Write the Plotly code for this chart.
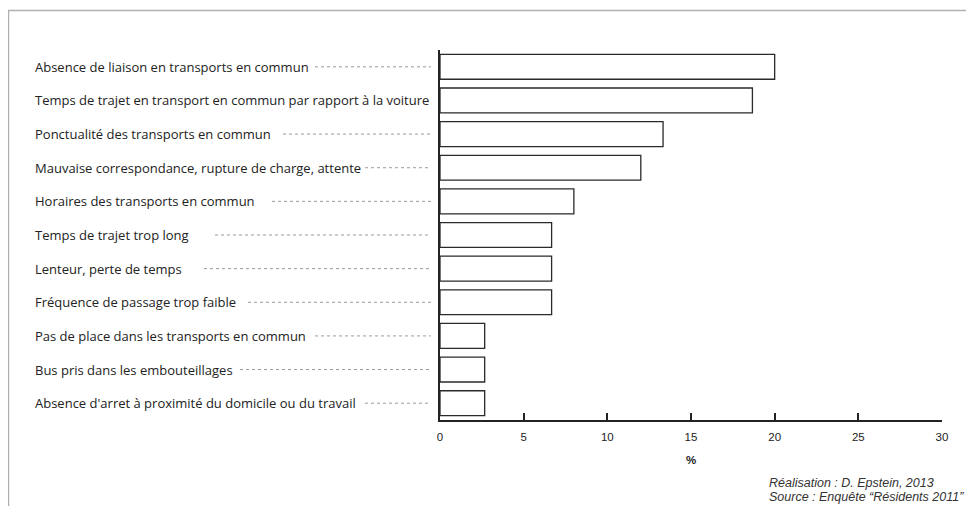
import plotly.graph_objects as go

# Reasons cited (top to bottom) and share of answers, in %
reasons = [
    "Absence de liaison en transports en commun",
    "Temps de trajet en transport en commun par rapport à la voiture",
    "Ponctualité des transports en commun",
    "Mauvaise correspondance, rupture de charge, attente",
    "Horaires des transports en commun",
    "Temps de trajet trop long",
    "Lenteur, perte de temps",
    "Fréquence de passage trop faible",
    "Pas de place dans les transports en commun",
    "Bus pris dans les embouteillages",
    "Absence d'arret à proximité du domicile ou du travail",
]
shares = [20.0, 18.67, 13.33, 12.0, 8.0, 6.67, 6.67, 6.67, 2.67, 2.67, 2.67]
x_ticks = [0, 5, 10, 15, 20, 25, 30]

# window pixel where each dotted leader starts (None = label reaches the axis)
leader_start_px = [315, None, 283, 365, 272, 215, 204, 248, 315, 240, 365]

# the page body adds an 8px margin, so the figure is 8px smaller than the window
OFF = 8
W, H = 974 - OFF, 506 - OFF
ML, MR, MT, MB = 440 - OFF, 32, 50 - OFF, 86
PW, PH = W - ML - MR, H - MT - MB


def px_x(px):
    return (px - OFF - ML) / PW


def px_y(py):
    return (H - MB - (py - OFF)) / PH


INK = "#222222"

fig = go.Figure()
fig.add_trace(
    go.Bar(
        x=shares,
        y=list(range(len(reasons))),
        orientation="h",
        width=0.74,
        marker=dict(color="white", line=dict(color="#2a2a2a", width=1.3)),
        hovertext=reasons,
        hovertemplate="%{hovertext}: %{x:.1f} %<extra></extra>",
        showlegend=False,
    )
)

# category labels, left aligned, plus dotted leaders towards the axis
for i, (label, start) in enumerate(zip(reasons, leader_start_px)):
    fig.add_annotation(
        x=px_x(33), xref="paper", y=i, yref="y",
        text=label, showarrow=False, xanchor="left", yanchor="middle",
        font=dict(family="Open Sans", size=13, color=INK),
    )
    if start is not None:
        fig.add_shape(
            type="line", xref="paper", yref="y",
            x0=px_x(start), x1=px_x(431), y0=i, y1=i,
            line=dict(color="#9a9a9a", width=1, dash="dot"),
        )

# grey frame around the figure
fig.add_shape(
    type="rect", xref="paper", yref="paper",
    x0=px_x(8.5), x1=px_x(990), y0=px_y(10.5), y1=px_y(520),
    line=dict(color="#b0b0b0", width=1.5), layer="below",
)

for text, py in [("Réalisation : D. Epstein, 2013", 483),
                 ("Source : Enquête “Résidents 2011”", 497)]:
    fig.add_annotation(
        x=px_x(767), xref="paper", y=px_y(py), yref="paper",
        text=f"<i>{text}</i>", showarrow=False, xanchor="left", yanchor="middle",
        font=dict(family="Liberation Sans", size=12.5, color="#333333"),
    )

fig.update_layout(
    width=W, height=H,
    margin=dict(l=ML, r=MR, t=MT, b=MB),
    plot_bgcolor="white", paper_bgcolor="white",
    xaxis=dict(
        range=[0, 30], tickvals=x_ticks,
        showgrid=False, zeroline=False,
        showline=True, linecolor=INK, linewidth=1.5,
        ticks="inside", ticklen=7, tickwidth=1.5, tickcolor=INK,
        ticklabelstandoff=5,
        tickfont=dict(family="Liberation Sans", size=11.5, color=INK),
        title=dict(text="<b>%</b>", standoff=14,
                   font=dict(family="Liberation Sans", size=11.5, color=INK)),
    ),
    yaxis=dict(
        range=[10.5, -0.5], showticklabels=False, ticks="",
        showgrid=False, zeroline=False,
        showline=True, linecolor=INK, linewidth=1.5,
    ),
)

fig.write_html("out.html")
